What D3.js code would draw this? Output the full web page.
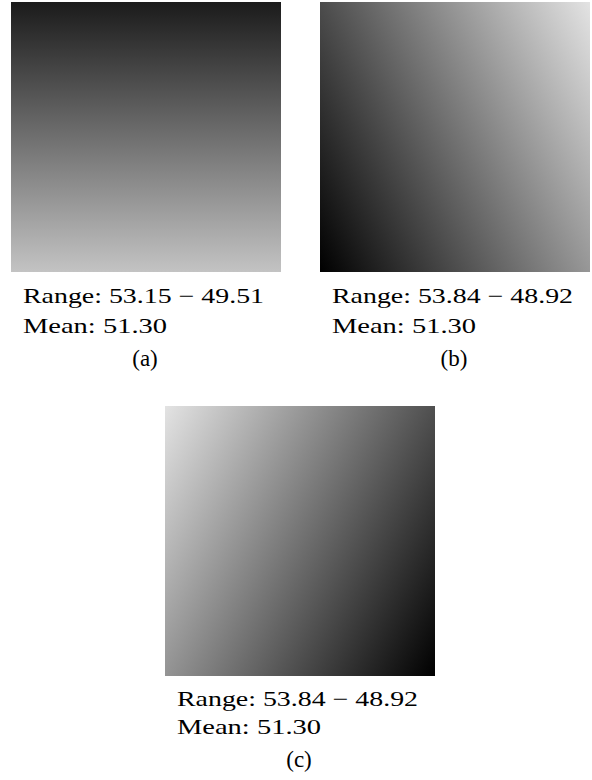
<!DOCTYPE html>
<html>
<head>
<meta charset="utf-8">
<script src="https://cdn.jsdelivr.net/npm/d3@7"></script>
<style>
  html, body { margin: 0; padding: 0; background: #fff; }
  svg { display: block; }
  text { font-family: "Liberation Serif", serif; fill: #000; }
</style>
</head>
<body>
<svg id="chart" width="592" height="780"></svg>
<script>
// Panel labels and summary statistics of each field
const panelLabels = ["(a)", "(b)", "(c)"];
const rangeMax = [53.15, 53.84, 53.84];
const rangeMin = [49.51, 48.92, 48.92];
const meanValues = [51.30, 51.30, 51.30];

// Field value at the four corners of each panel: top-left, top-right, bottom-left, bottom-right
const cornersA = [49.51, 49.51, 53.15, 53.15];
const cornersB = [50.52, 53.84, 48.92, 52.14];
const cornersC = [53.84, 50.42, 51.90, 48.92];
const cornerValues = [cornersA, cornersB, cornersC];

const svg = d3.select("#chart");
const defs = svg.append("defs");

const size = 270;
const panelPos = [
  { x: 11, y: 2, cap: [31, 61, 94] },
  { x: 320, y: 2, cap: [31, 61, 94] },
  { x: 165, y: 406, cap: [30, 58, 91] }
];

// Shared grey scale over all panels
const allValues = rangeMin.concat(rangeMax);
const grey = d3.scaleLinear()
  .domain(d3.extent(allValues))
  .range(["#000000", "#e3e3e3"])
  .interpolate(d3.interpolateRgb);

const fmt = d3.format(".2f");

panelPos.forEach((p, i) => {
  const c = cornerValues[i];
  const pts = [
    [p.x, p.y], [p.x + size, p.y],
    [p.x, p.y + size], [p.x + size, p.y + size]
  ];
  // Planar trend of the field across the square (per pixel)
  const gx = ((c[1] - c[0]) + (c[3] - c[2])) / 2 / size;
  const gy = ((c[2] - c[0]) + (c[3] - c[1])) / 2 / size;
  const len = Math.hypot(gx, gy);
  const ux = gx / len, uy = gy / len;
  const iMin = d3.minIndex(c), iMax = d3.maxIndex(c);
  const start = pts[iMin];
  const proj = (pts[iMax][0] - start[0]) * ux + (pts[iMax][1] - start[1]) * uy;

  const grad = defs.append("linearGradient")
    .attr("id", "field" + i)
    .attr("gradientUnits", "userSpaceOnUse")
    .attr("x1", start[0]).attr("y1", start[1])
    .attr("x2", start[0] + ux * proj).attr("y2", start[1] + uy * proj);
  grad.append("stop").attr("offset", 0).attr("stop-color", grey(c[iMin]));
  grad.append("stop").attr("offset", 1).attr("stop-color", grey(c[iMax]));

  svg.append("rect")
    .attr("x", p.x).attr("y", p.y)
    .attr("width", size).attr("height", size)
    .attr("fill", `url(#field${i})`);

  // Caption block under the panel
  const capTop = p.y + size;
  const left = p.x + 12;
  const g = svg.append("g").attr("font-family", "Liberation Serif");
  g.append("text")
    .attr("x", left).attr("y", capTop + p.cap[0])
    .attr("font-size", 21)
    .attr("textLength", 241).attr("lengthAdjust", "spacingAndGlyphs")
    .text(`Range:  ${fmt(rangeMax[i])} \u2212 ${fmt(rangeMin[i])}`);
  g.append("text")
    .attr("x", left).attr("y", capTop + p.cap[1])
    .attr("font-size", 21)
    .attr("textLength", 144).attr("lengthAdjust", "spacingAndGlyphs")
    .text(`Mean:  ${fmt(meanValues[i])}`);
  g.append("text")
    .attr("x", p.x + size / 2 - 1).attr("y", capTop + p.cap[2])
    .attr("font-size", 23)
    .attr("text-anchor", "middle")
    .text(panelLabels[i]);
});
</script>
</body>
</html>
